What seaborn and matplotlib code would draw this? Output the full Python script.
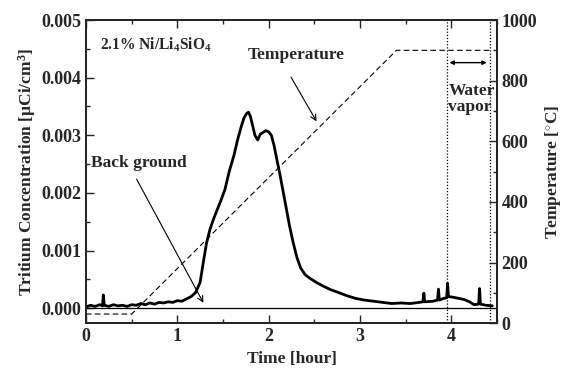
import matplotlib
matplotlib.use("Agg")
import matplotlib.pyplot as plt
import seaborn as sns
from matplotlib.ticker import MultipleLocator, FormatStrFormatter

# tritium concentration (units of 1e-3 uCi/cm3)
time_h = [0.00, 0.05, 0.10, 0.15, 0.18, 0.19, 0.20, 0.25, 0.30, 0.35, 0.40, 0.45,
          0.50, 0.55, 0.60, 0.65, 0.70, 0.75, 0.80, 0.85, 0.90, 0.95, 1.00, 1.05,
          1.10, 1.15, 1.20, 1.25, 1.28, 1.32, 1.36, 1.40, 1.44, 1.48, 1.52, 1.57,
          1.62, 1.66, 1.70, 1.73, 1.76, 1.78, 1.80, 1.82, 1.85, 1.88, 1.91, 1.94,
          1.97, 2.00, 2.03, 2.06, 2.09, 2.12, 2.15, 2.19, 2.23, 2.27, 2.31, 2.35,
          2.40, 2.45, 2.52, 2.60, 2.68, 2.75, 2.85, 2.95, 3.05, 3.15, 3.25, 3.35,
          3.45, 3.55, 3.65, 3.69, 3.70, 3.71, 3.80, 3.85, 3.86, 3.87, 3.92, 3.95,
          3.96, 3.97, 4.02, 4.08, 4.14, 4.20, 4.25, 4.30, 4.31, 4.32, 4.38, 4.45]
conc_milli = [0.02, 0.05, 0.03, 0.06, 0.04, 0.23, 0.05, 0.03, 0.06, 0.04, 0.05, 0.03,
              0.06, 0.05, 0.08, 0.06, 0.09, 0.07, 0.10, 0.09, 0.11, 0.10, 0.13, 0.12,
              0.16, 0.20, 0.27, 0.45, 0.75, 1.13, 1.38, 1.56, 1.72, 1.88, 2.05, 2.38,
              2.65, 2.92, 3.15, 3.30, 3.38, 3.40, 3.33, 3.20, 3.00, 2.92, 3.02, 3.05,
              3.08, 3.06, 3.00, 2.82, 2.58, 2.35, 2.10, 1.76, 1.42, 1.13, 0.88, 0.70,
              0.58, 0.52, 0.45, 0.38, 0.32, 0.28, 0.22, 0.17, 0.14, 0.12, 0.10, 0.08,
              0.09, 0.08, 0.10, 0.11, 0.26, 0.11, 0.12, 0.14, 0.33, 0.14, 0.17, 0.18,
              0.43, 0.20, 0.19, 0.17, 0.15, 0.11, 0.06, 0.07, 0.34, 0.07, 0.05, 0.04]
conc = [c / 1000 for c in conc_milli]

# temperature program
temp_time = [0.0, 0.5, 3.4, 4.45]
temp_c = [30, 30, 900, 900]

# water vapor window
vapor_start, vapor_end = 3.95, 4.42

sns.set_style("ticks")
plt.rcParams['font.family'] = ['Liberation Serif', 'DejaVu Serif']
plt.rcParams['font.weight'] = 'bold'
plt.rcParams['mathtext.fontset'] = 'custom'
plt.rcParams['mathtext.rm'] = 'Liberation Serif:bold'
plt.rcParams['mathtext.bf'] = 'Liberation Serif:bold'
plt.rcParams['mathtext.default'] = 'bf'

fig, ax = plt.subplots(figsize=(5.64, 3.74), dpi=100)
fig.subplots_adjust(left=0.1525, right=0.881, bottom=0.136, top=0.9465)
ax2 = ax.twinx()

sns.lineplot(x=time_h, y=conc, ax=ax, color='black', lw=2.0, estimator=None)
ax.axhline(0, color='black', lw=0.9)

sns.lineplot(x=temp_time, y=temp_c, ax=ax2, color='black', lw=0.8, estimator=None)
ax2.lines[0].set_dashes((5, 3))

for xv in (vapor_start, vapor_end):
    ax.axvline(xv, color='black', lw=0.9, ls=(0, (1, 1.5)))

ax.set_xlim(0, 4.5)
ax.set_ylim(-0.00026, 0.005)
ax2.set_ylim(0, 1000)

ax.xaxis.set_major_locator(MultipleLocator(1))
ax.xaxis.set_minor_locator(MultipleLocator(0.5))
ax.yaxis.set_major_locator(MultipleLocator(0.001))
ax.yaxis.set_minor_locator(MultipleLocator(0.0005))
ax.yaxis.set_major_formatter(FormatStrFormatter('%.3f'))
ax2.yaxis.set_major_locator(MultipleLocator(200))
ax2.yaxis.set_minor_locator(MultipleLocator(100))

ax.tick_params(which='both', direction='in', top=True, right=False, width=1, labelsize=13)
ax.tick_params(which='major', length=5.5)
ax.tick_params(which='minor', length=3)
ax2.tick_params(which='both', direction='in', width=1, labelsize=13)
ax2.tick_params(which='major', length=5.5)
ax2.tick_params(which='minor', length=3)
for a in (ax, ax2):
    for s in a.spines.values():
        s.set_linewidth(1.4)
        s.set_visible(True)

ax.set_xlabel('Time [hour]', fontsize=12.5, fontweight='bold')
ax.set_ylabel(r'Tritium Concentration [µCi/cm$^{3}$]', fontsize=12.5, fontweight='bold', labelpad=2)
ax2.set_ylabel(r'Temperature [$^{\circ}$C]', fontsize=12.5, fontweight='bold', labelpad=4)

ax.text(0.15, 0.00457, r'2.1% Ni/Li$_{4}$SiO$_{4}$', fontsize=11.2, fontweight='bold', va='center')
ax.text(2.30, 0.0044, 'Temperature', fontsize=12.5, fontweight='bold', ha='center', va='center')
ax.annotate('', xy=(2.54, 0.0032), xytext=(2.23, 0.00405),
            arrowprops=dict(arrowstyle='->', lw=0.8, color='black'))
ax.text(0.05, 0.00252, 'Back ground', fontsize=12.5, fontweight='bold', va='center')
ax.annotate('', xy=(1.30, 0.00005), xytext=(0.54, 0.00228),
            arrowprops=dict(arrowstyle='->', lw=0.8, color='black'))
ax.annotate('', xy=(vapor_end, 0.00426), xytext=(vapor_start, 0.00426),
            arrowprops=dict(arrowstyle='<|-|>', lw=1, color='black', mutation_scale=6))
ax.text(3.97, 0.00363, 'Water\nvapor', fontsize=12.5, fontweight='bold', va='center',
        linespacing=1.0)

fig.savefig('out.png', dpi=100)
